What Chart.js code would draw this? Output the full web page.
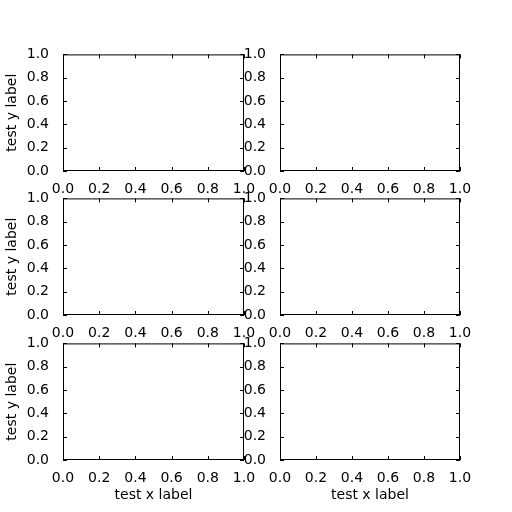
<!DOCTYPE html>
<html><head>
<script src="https://cdn.jsdelivr.net/npm/chart.js@4/dist/chart.umd.min.js"></script>
<style>body{margin:0;background:#fff}canvas{position:absolute}</style>
</head><body>
<script>
const xTicks = [0, 0.2, 0.4, 0.6, 0.8, 1.0];
const yTicks = [0, 0.2, 0.4, 0.6, 0.8, 1.0];
const xTitle = 'test x label';
const yTitle = 'test y label';

const colLeft = [63, 280], colWidth = [181, 180];
const rowTop = [50, 194, 339], rowHeight = 121;
const FONT = {family: 'DejaVu Sans', size: 14};

// frame on all four sides + inward ticks like matplotlib classic
const framePlugin = {
  id: 'frame',
  afterDraw(chart) {
    const {ctx, chartArea: a, scales} = chart;
    ctx.save();
    ctx.strokeStyle = '#000'; ctx.lineWidth = 1;
    ctx.strokeRect(a.left + 0.5, a.top + 0.5, a.right - a.left - 1, a.bottom - a.top - 1);
    ctx.beginPath();
    xTicks.forEach(v => {
      const px = Math.round(scales.x.getPixelForValue(v)) + 0.5;
      ctx.moveTo(px, a.bottom); ctx.lineTo(px, a.bottom - 4);
      ctx.moveTo(px, a.top); ctx.lineTo(px, a.top + 4);
    });
    yTicks.forEach(v => {
      const py = Math.round(scales.y.getPixelForValue(v)) + 0.5;
      ctx.moveTo(a.left, py); ctx.lineTo(a.left + 4, py);
      ctx.moveTo(a.right, py); ctx.lineTo(a.right - 4, py);
    });
    ctx.stroke();
    ctx.restore();
  }
};

for (let r = 0; r < 3; r++) {
  for (let c = 0; c < 2; c++) {
    const yW = c === 0 ? 63 : 40;
    const xH = r === 2 ? 48 : 24;
    const padT = 10, padR = 20;
    const cv = document.createElement('canvas');
    const w = yW + colWidth[c] + padR, h = padT + rowHeight + xH;
    cv.style.left = (colLeft[c] - yW) + 'px';
    cv.style.top = (rowTop[r] - padT) + 'px';
    cv.style.width = w + 'px'; cv.style.height = h + 'px';
    cv.width = w; cv.height = h;
    document.body.appendChild(cv);
    new Chart(cv, {
      type: 'scatter',
      data: {datasets: [{data: []}]},
      plugins: [framePlugin],
      options: {
        responsive: false, animation: false, devicePixelRatio: 1,
        layout: {autoPadding: false, padding: {top: padT, right: padR, left: 0, bottom: 0}},
        plugins: {legend: {display: false}, tooltip: {enabled: false}},
        scales: {
          x: {
            min: 0, max: 1,
            afterBuildTicks: s => { s.ticks = xTicks.map(v => ({value: v})); },
            afterFit: s => { s.height = xH; },
            grid: {display: false}, border: {display: false},
            ticks: {color: '#000', font: FONT, padding: 2, maxRotation: 0,
              callback: v => Number(v).toFixed(1)},
            title: {display: r === 2, text: xTitle, color: '#000', font: FONT, padding: {top: 0}}
          },
          y: {
            min: 0, max: 1,
            afterBuildTicks: s => { s.ticks = yTicks.map(v => ({value: v})); },
            afterFit: s => { s.width = yW; },
            grid: {display: false}, border: {display: false},
            ticks: {color: '#000', font: FONT, padding: 6,
              callback: v => Number(v).toFixed(1)},
            title: {display: c === 0, text: yTitle, color: '#000', font: FONT, padding: {bottom: 2}}
          }
        }
      }
    });
  }
}
</script>
</body></html>
